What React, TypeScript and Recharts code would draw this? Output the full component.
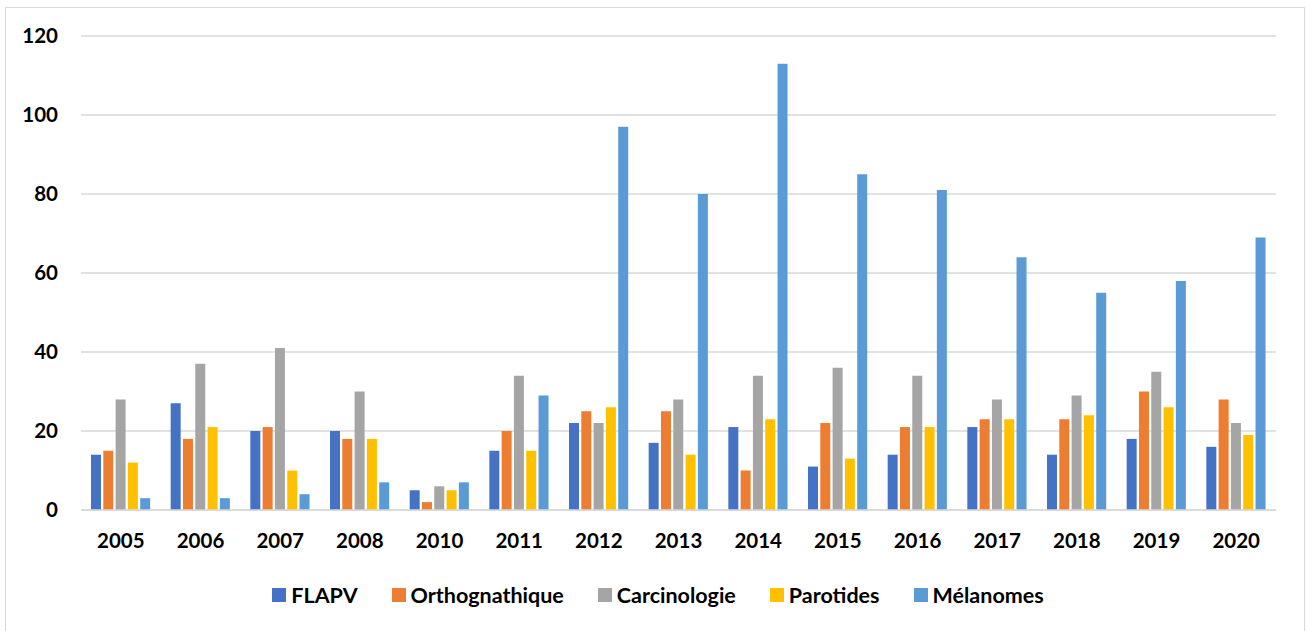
import React from "react";
import { BarChart, Bar, XAxis, YAxis, CartesianGrid, Legend } from "recharts";

const years = ["2005", "2006", "2007", "2008", "2010", "2011", "2012", "2013", "2014", "2015", "2016", "2017", "2018", "2019", "2020"];
const flapv = [14, 27, 20, 20, 5, 15, 22, 17, 21, 11, 14, 21, 14, 18, 16];
const orthognathique = [15, 18, 21, 18, 2, 20, 25, 25, 10, 22, 21, 23, 23, 30, 28];
const carcinologie = [28, 37, 41, 30, 6, 34, 22, 28, 34, 36, 34, 28, 29, 35, 22];
const parotides = [12, 21, 10, 18, 5, 15, 26, 14, 23, 13, 21, 23, 24, 26, 19];
const melanomes = [3, 3, 4, 7, 7, 29, 97, 80, 113, 85, 81, 64, 55, 58, 69];
const yTicks = [0, 20, 40, 60, 80, 100, 120];

const seriesNames = ["FLAPV", "Orthognathique", "Carcinologie", "Parotides", "Mélanomes"];
const colors = ["#4472C4", "#ED7D31", "#A5A5A5", "#FFC000", "#5B9BD5"];

const data = years.map((y, i) => ({
  year: y,
  FLAPV: flapv[i],
  Orthognathique: orthognathique[i],
  Carcinologie: carcinologie[i],
  Parotides: parotides[i],
  "Mélanomes": melanomes[i],
}));

const FONT = "Lato, 'Open Sans', sans-serif";

const renderLegend = () => (
  <div style={{ display: "flex", justifyContent: "center", alignItems: "center", fontFamily: FONT, fontWeight: 700, fontSize: 21.5, color: "#000", marginLeft: 40 }}>
    {seriesNames.map((n, i) => (
      <div key={n} style={{ display: "flex", alignItems: "center", marginRight: i < seriesNames.length - 1 ? 34 : 0 }}>
        <span style={{ display: "inline-block", width: 14, height: 14, background: colors[i], marginRight: 5 }} />
        <span>{n}</span>
      </div>
    ))}
  </div>
);

export default function App() {
  return (
    <div style={{ position: "absolute", left: 0, top: 0, width: 1307, height: 631, background: "#fff", overflow: "hidden" }}>
      <div style={{ position: "absolute", left: 5, top: 7, width: 1300, height: 630, border: "1px solid #d9d9d9", boxSizing: "border-box" }} />
      <BarChart
        width={1307}
        height={631}
        data={data}
        margin={{ top: 36, right: 31, left: 0, bottom: 25 }}
        barSize={10}
        barGap={2.3}
      >
        <CartesianGrid vertical={false} stroke="#d9d9d9" strokeWidth={1.5} />
        <XAxis
          dataKey="year"
          axisLine={{ stroke: "#d9d9d9", strokeWidth: 1.5 }}
          tickLine={false}
          tickSize={0}
          tickMargin={23}
          height={72}
          interval={0}
          tick={{ fill: "#000", fontFamily: FONT, fontWeight: 700, fontSize: 20.5 }}
        />
        <YAxis
          domain={[0, 120]}
          ticks={yTicks}
          axisLine={false}
          tickLine={false}
          tickSize={0}
          tickMargin={23}
          width={81}
          tick={{ fill: "#000", fontFamily: FONT, fontWeight: 700, fontSize: 20.5 }}
        />
        <Legend verticalAlign="bottom" height={24} content={renderLegend} />
        {seriesNames.map((n, i) => (
          <Bar key={n} dataKey={n} fill={colors[i]} isAnimationActive={false} />
        ))}
      </BarChart>
    </div>
  );
}
